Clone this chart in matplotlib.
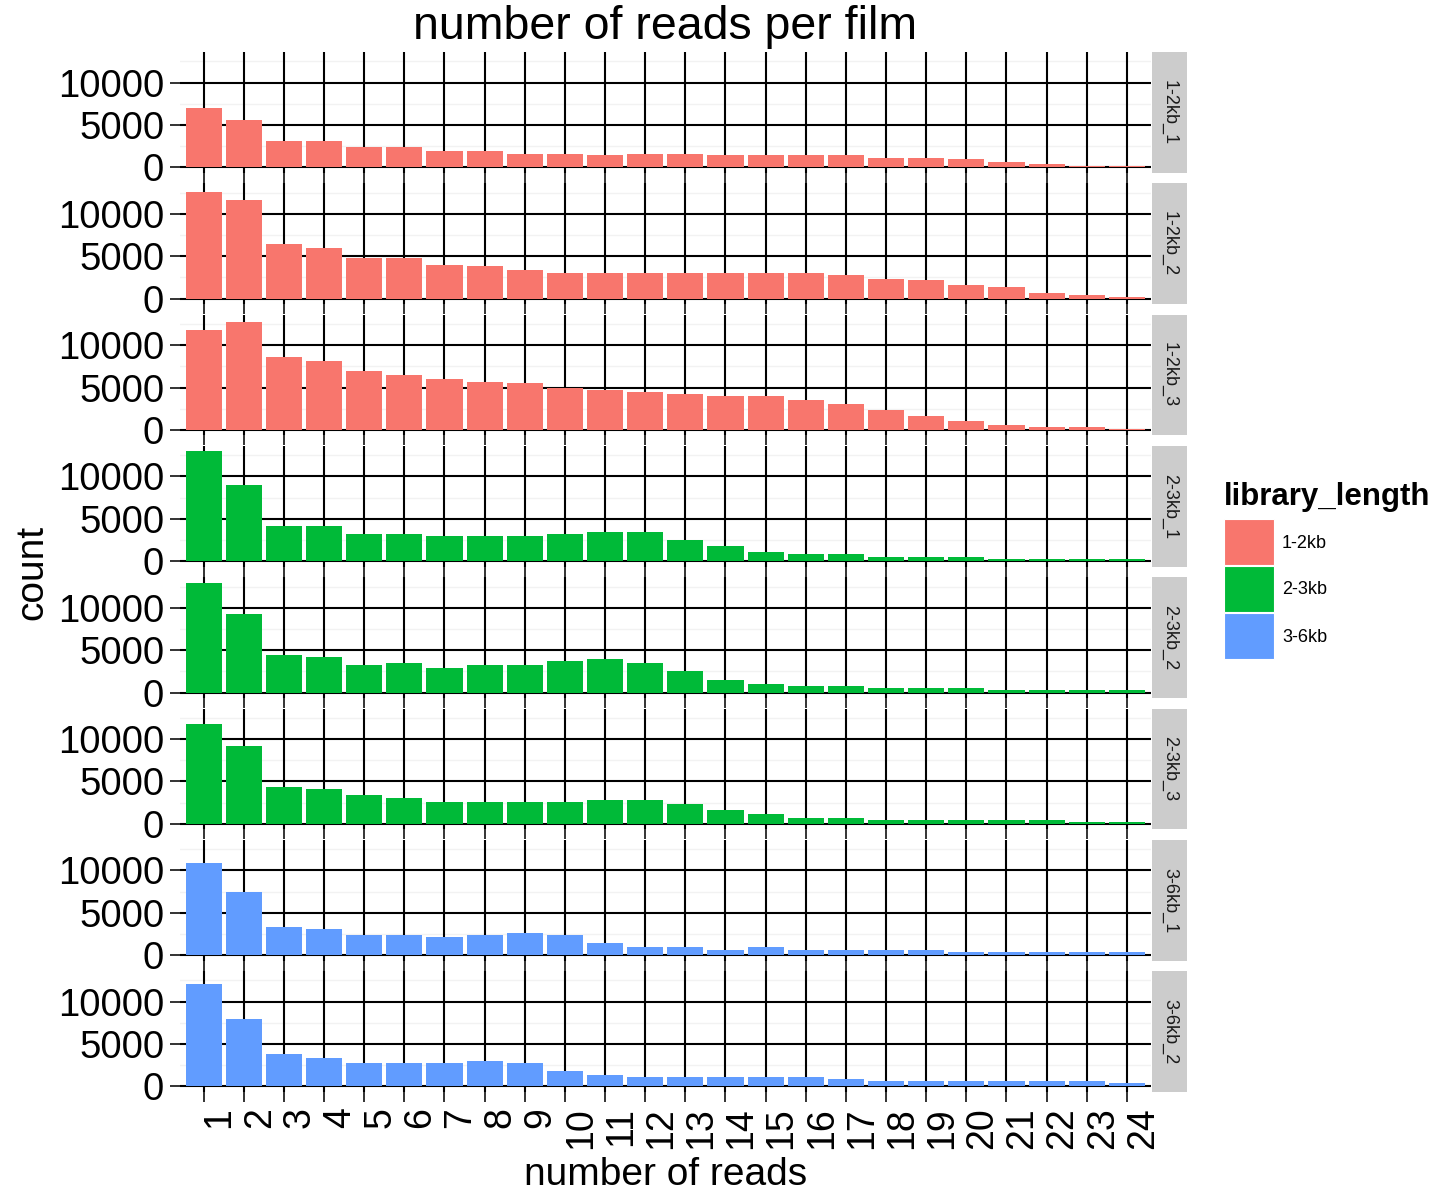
import numpy as np
import matplotlib
matplotlib.use("Agg")
import matplotlib.pyplot as plt
import matplotlib.patches as mpatches
import matplotlib.transforms as mtransforms

plt.rcParams['font.family'] = ['Liberation Sans', 'DejaVu Sans']

# reads per film (1..24) for each library / film
n_reads = list(range(1, 25))
films = ["1-2kb_1", "1-2kb_2", "1-2kb_3", "2-3kb_1", "2-3kb_2", "2-3kb_3", "3-6kb_1", "3-6kb_2"]
film_library = ["1-2kb", "1-2kb", "1-2kb", "2-3kb", "2-3kb", "2-3kb", "3-6kb", "3-6kb"]

counts_1_2kb_1 = [7000, 5550, 3150, 3150, 2350, 2350, 1900, 1900, 1600, 1600, 1400, 1600,
                  1600, 1400, 1400, 1400, 1400, 1150, 1150, 950, 650, 450, 200, 200]
counts_1_2kb_2 = [12550, 11600, 6500, 6000, 4750, 4750, 4000, 3800, 3350, 3050, 3050, 3050,
                  3050, 3050, 3050, 3050, 2800, 2300, 2150, 1600, 1350, 650, 400, 150]
counts_1_2kb_3 = [11800, 12750, 8650, 8150, 6950, 6450, 5950, 5700, 5500, 4950, 4700, 4450,
                  4250, 4000, 4000, 3500, 3050, 2300, 1600, 1100, 550, 350, 350, 100]
counts_2_3kb_1 = [12950, 9050, 4200, 4200, 3250, 3250, 3000, 3000, 3000, 3250, 3450, 3450,
                  2500, 1750, 1050, 850, 850, 550, 550, 550, 300, 300, 300, 300]
counts_2_3kb_2 = [12900, 9300, 4400, 4200, 3200, 3450, 2950, 3200, 3200, 3700, 3900, 3450,
                  2500, 1500, 1000, 750, 750, 500, 500, 500, 300, 300, 300, 300]
counts_2_3kb_3 = [11800, 9150, 4300, 4050, 3350, 3050, 2600, 2600, 2600, 2600, 2850, 2850,
                  2350, 1650, 1200, 650, 650, 450, 450, 450, 450, 450, 200, 200]
counts_3_6kb_1 = [10850, 7450, 3350, 3050, 2350, 2350, 2150, 2350, 2600, 2350, 1400, 900,
                  900, 650, 900, 650, 650, 650, 650, 400, 400, 400, 400, 400]
counts_3_6kb_2 = [12050, 7900, 3800, 3300, 2800, 2800, 2800, 3050, 2800, 1800, 1350, 1100,
                  1100, 1100, 1100, 1100, 850, 600, 600, 600, 600, 600, 600, 350]

all_counts = [counts_1_2kb_1, counts_1_2kb_2, counts_1_2kb_3, counts_2_3kb_1,
              counts_2_3kb_2, counts_2_3kb_3, counts_3_6kb_1, counts_3_6kb_2]

libraries = ["1-2kb", "2-3kb", "3-6kb"]
lib_colors = {"1-2kb": "#F8766D", "2-3kb": "#00BA38", "3-6kb": "#619CFF"}

W, H = 1441, 1191
fig = plt.figure(figsize=(W / 100, H / 100), dpi=100)

# panel geometry in pixels
left_px, right_px = 179.5, 1151
top0_px, pitch_px, panel_h_px = 52.1, 131.3, 120.7
strip_w_px = 35

ymax = max(max(c) for c in all_counts)
ylo, yhi = -0.05 * ymax, 1.05 * ymax

axes = []
for i, (film, counts) in enumerate(zip(films, all_counts)):
    top = top0_px + i * pitch_px
    ax = fig.add_axes([left_px / W, 1 - (top + panel_h_px) / H,
                       (right_px - left_px) / W, panel_h_px / H])
    ax.set_facecolor("white")
    for s in ax.spines.values():
        s.set_visible(False)

    # faint minor grid, black major grid
    for yv in [2500, 7500, 12500]:
        ax.axhline(yv, color="#F2F2F2", lw=1.0, zorder=0)
    ax.grid(True, which="major", color="black", lw=1.5, zorder=0)
    ax.set_axisbelow(True)

    ax.bar(n_reads, counts, width=0.9, color=lib_colors[film_library[i]], zorder=2)

    ax.set_xlim(0.4, 24.6)
    ax.set_ylim(ylo, yhi)
    ax.set_xticks(n_reads)
    ax.set_yticks([0, 5000, 10000])
    ax.set_yticklabels(["0", "5000", "10000"])
    ax.tick_params(axis="y", length=7, width=1.4, color="#333333", labelsize=27.5, pad=4)
    ax.tick_params(axis="x", length=7, width=1.4, color="#333333", labelsize=27, pad=4)
    if i < len(films) - 1:
        ax.set_xticklabels([])
    else:
        ax.set_xticklabels([str(n) for n in n_reads], rotation=90, va="top", ha="center")
        shift = mtransforms.ScaledTranslation(0.16, 0, fig.dpi_scale_trans)
        for lab in ax.get_xticklabels():
            lab.set_transform(lab.get_transform() + shift)

    # facet strip on the right
    strip = fig.add_axes([(right_px + 1) / W, 1 - (top + panel_h_px) / H,
                          strip_w_px / W, panel_h_px / H])
    strip.set_facecolor("#CCCCCC")
    strip.set_xticks([])
    strip.set_yticks([])
    for s in strip.spines.values():
        s.set_visible(False)
    strip.text(0.5, 0.5, film, rotation=-90, ha="center", va="center",
               fontsize=13, color="#1A1A1A", transform=strip.transAxes)
    axes.append(ax)

fig.text((left_px + right_px) / 2 / W, 1 - 27 / H, "number of reads per film",
         ha="center", va="center", fontsize=33.5)
fig.text((left_px + right_px) / 2 / W, 1 - 1175 / H, "number of reads",
         ha="center", va="center", fontsize=28)
fig.text(32 / W, 1 - 572 / H, "count", rotation=90, ha="center", va="center", fontsize=28)

# legend
fig.text(1224 / W, 1 - 497 / H, "library_length", ha="left", va="center",
         fontsize=22.5, fontweight="bold")
key_top = 519
for k, lib in enumerate(libraries):
    y_top = key_top + k * 47
    fig.patches.append(mpatches.Rectangle((1224 / W, 1 - (y_top + 46) / H), 50 / W, 46 / H,
                                          transform=fig.transFigure, facecolor=lib_colors[lib],
                                          edgecolor="white", lw=0.8))
    fig.text(1282 / W, 1 - (y_top + 24) / H, lib, ha="left", va="center", fontsize=13)

fig.savefig("out.png", dpi=100)
